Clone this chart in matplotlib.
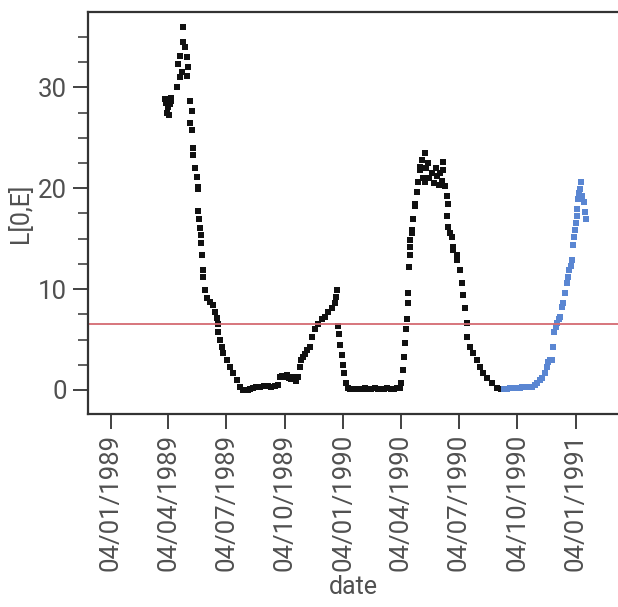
import numpy as np
import matplotlib
matplotlib.use('Agg')
import matplotlib.pyplot as plt
import matplotlib.dates as mdates

plt.rcParams['font.family'] = ['Roboto', 'DejaVu Sans']

# days counted from 04/01/1989, values of L[0,E]
black_days = [85, 87, 88, 90, 91, 93, 94, 95, 104,
              105, 108, 108, 111, 113, 113, 116, 119, 119, 121,
              124, 124, 127, 127, 129, 129, 132, 135, 137, 136, 137, 138, 140, 141, 141,
              143, 144, 144, 148, 151, 155, 160, 163, 166, 168, 168, 171, 174, 176, 182,
              187, 192, 198, 203, 207, 211, 215, 219, 223, 228, 234, 240, 246, 252, 258,
              262, 265, 268, 272, 276, 280, 283, 286, 290, 294, 297, 299, 301, 304, 308,
              312, 316, 320, 325, 331, 336, 341, 347, 352, 353, 355, 356, 358, 360, 363,
              364, 366, 369, 372, 376, 380, 384, 389, 394, 399, 404, 409, 414, 419, 424,
              429, 434, 439, 444, 449, 453,
              456, 458, 460, 462, 463, 465, 466, 466, 468, 469, 469, 470, 473, 473, 474,
              477, 477, 480, 482, 485, 485, 488, 490, 493, 493, 495, 498, 500, 504, 507,
              510, 512, 515, 517, 520, 521, 521, 524, 528, 528, 529, 529, 532, 535, 537,
              537, 543, 543, 548, 551, 553, 556, 559, 559, 564, 568, 575, 579, 584, 590,
              598, 606, 612]
black_vals = [28.8, 28.4, 27.5, 28.0, 27.3, 28.3, 28.9, 28.6, 30.0,
              32.3, 31.0, 33.1, 31.5, 36.0, 34.5, 34.0, 33.0, 31.1, 32.0,
              28.6, 26.5, 27.6, 25.8, 24.0, 23.3, 22.0, 21.1, 20.1, 19.9, 17.7, 16.9, 16.1, 15.4, 14.6,
              13.4, 11.9, 11.2, 9.9, 9.1, 8.7, 8.4, 7.7, 7.1, 6.5, 5.7, 5.0, 4.3, 3.7, 3.0,
              2.3, 1.7, 1.0, 0.3, 0.0, 0.0, 0.0, 0.1, 0.2, 0.3, 0.3, 0.4, 0.4, 0.3, 0.4,
              0.5, 1.3, 1.4, 1.3, 1.5, 1.2, 1.1, 1.3, 0.9, 1.3, 2.3, 3.0, 3.3, 3.6, 4.0,
              4.3, 5.3, 6.0, 6.5, 7.0, 7.2, 7.7, 8.1, 8.6, 9.2, 9.9, 6.3, 5.5, 4.5, 3.5,
              2.5, 1.7, 0.7, 0.2, 0.1, 0.1, 0.1, 0.1, 0.1, 0.2, 0.1, 0.1, 0.2, 0.1, 0.1,
              0.1, 0.2, 0.1, 0.1, 0.2, 0.2,
              0.7, 2.0, 3.3, 4.7, 6.0, 7.0, 8.6, 9.6, 12.2, 13.4, 14.2, 14.9, 15.6, 15.9, 16.9,
              18.2, 18.4, 19.6, 20.6, 21.8, 22.1, 22.8, 21.0, 23.5, 20.6, 22.0, 22.5, 21.0, 21.5, 20.5,
              22.0, 21.2, 20.3, 21.5, 20.7, 22.6, 21.8, 20.2, 19.2, 17.2, 18.4, 16.2, 15.6, 15.2, 14.2,
              13.9, 13.4, 12.9, 11.9, 10.6, 9.4, 8.1, 6.6, 5.3, 4.3, 3.7, 3.0, 2.3, 1.7, 1.2,
              0.7, 0.2, 0.1]

blue_days = [617, 622, 626, 630, 634, 638, 642, 646, 650, 655, 661, 665, 669, 673, 677,
             681, 685, 686, 689, 692, 694, 696, 698, 700, 703, 705, 708, 710, 713, 716,
             718, 719, 722, 724, 726, 727, 729, 730, 732, 732, 733, 735, 736, 738, 740,
             743, 744, 746]
blue_vals = [0.1, 0.1, 0.2, 0.2, 0.2, 0.2, 0.2, 0.3, 0.3, 0.3, 0.3, 0.5, 0.7, 1.0, 1.2,
             1.7, 2.3, 2.8, 3.0, 3.0, 4.3, 5.7, 6.2, 6.6, 7.0, 7.2, 8.2, 8.6, 9.6, 10.6,
             11.2, 11.9, 12.3, 12.9, 14.4, 15.2, 15.9, 16.5, 17.2, 17.9, 18.9, 19.5, 19.9, 20.6, 19.2,
             18.6, 17.6, 16.9]

threshold = 6.55
tick_dates = ['1989-01-04', '1989-04-04', '1989-07-04', '1989-10-04', '1990-01-04',
              '1990-04-04', '1990-07-04', '1990-10-04', '1991-01-04']

start = np.datetime64('1989-01-04')


def to_dates(days):
    return (start + np.array(days, dtype='timedelta64[D]')).astype('datetime64[D]').astype(object)


fig = plt.figure(figsize=(6.18, 6.07), dpi=100)
ax = fig.add_axes([88 / 618, 1 - 414 / 607, 1 - 88 / 618, (414 - 12) / 607])

ax.plot(to_dates(black_days), black_vals, 's', color='#111111', ms=4.4, mew=0)
ax.plot(to_dates(blue_days), blue_vals, 's', color='#5a86d2', ms=4.4, mew=0)
ax.axhline(threshold, color='#d46a72', lw=1.3)

ax.set_xlim(to_dates([-36])[0], to_dates([796])[0])
ax.set_ylim(-2.38, 37.46)

ax.set_xticks(to_dates([(np.datetime64(d) - start).astype(int) for d in tick_dates]))
ax.xaxis.set_major_formatter(mdates.DateFormatter('%d/%m/%Y'))
ax.set_yticks([0, 10, 20, 30])
ax.set_yticks(np.arange(0, 37.5, 2.5), minor=True)

gray = '#333333'
txt = '#505050'
for s in ['left', 'top', 'bottom']:
    ax.spines[s].set_linewidth(1.6)
    ax.spines[s].set_color(gray)
ax.spines['right'].set_visible(False)

ax.tick_params(axis='x', direction='out', length=11, width=1.3, color=gray,
               labelsize=18.5, labelcolor=txt, rotation=90, pad=3)
ax.tick_params(axis='y', which='major', direction='out', length=11, width=1.3, color=gray,
               labelsize=18.5, labelcolor=txt, pad=4)
ax.tick_params(axis='y', which='minor', direction='out', length=7, width=1.1, color=gray)

ax.set_xlabel('date', fontsize=18, color=txt, labelpad=3)
ax.set_ylabel('L[0,E]', fontsize=18, color=txt, labelpad=4)

fig.savefig('out.png', dpi=100)
